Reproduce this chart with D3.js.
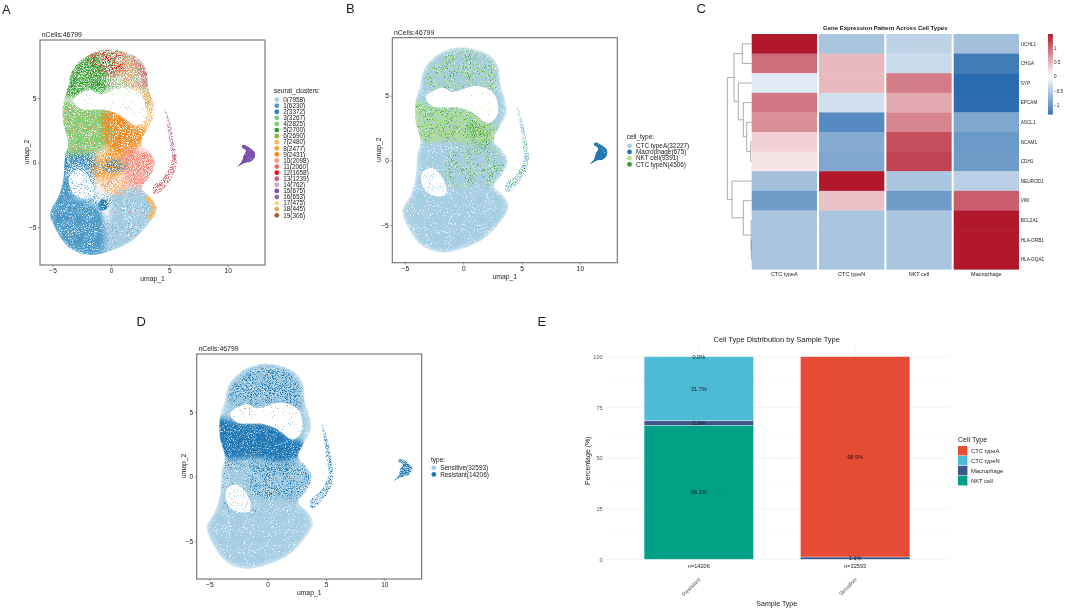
<!DOCTYPE html>
<html lang="en">
<head>
<meta charset="utf-8">
<script src="https://cdn.jsdelivr.net/npm/d3@7/dist/d3.min.js"></script>
<style>
  body { margin: 0; background: #fff; }
  svg { filter: blur(0.25px); }
  text { font-family: "Liberation Sans", Arial, sans-serif; fill: #1a1a1a; }
</style>
</head>
<body>
<script>
// ---- data ----

var clusterLabels = ["0","1","2","3","4","5","6","7","8","9","10","11","12","13","14","15","16","17","18","19"];
var clusterCounts = [7958,6230,3372,3267,2825,2700,2690,2480,2477,2431,2098,2060,1658,1239,762,675,653,475,445,306];
var clusterColors = ["#a6cee3","#4c9ac8","#2a7fb3","#7ec48a","#85cc6e","#2fa02c","#8fb04a","#fdb863","#ff9d2e","#ff8514",
                     "#fb9585","#f76a6a","#e31a1c","#c9637a","#c2a5cf","#7b4fa8","#9067a8","#f0dc8c","#dcae55","#b15928"];

var cellTypes = ["CTC typeA","Macrophage","NKT cell","CTC typeN"];
var cellTypeCounts = [32227,675,9391,4506];
var cellTypeColors = ["#a6cee3","#1f78b4","#b2df8a","#33a02c"];

var sampleTypes = ["Sensitive","Resistant"];
var sampleTypeCounts = [32593,14206];
var sampleTypeColors = ["#a6cee3","#1f78b4"];

// The ~46k cells cannot be read one by one, so the umap panels are traced as
// regions in umap coordinates; the svg filter below only gives them a grainy look.
var bodyOutline = [[-0.66,8.73],[1.06,8.6],[2.49,7.96],[3.06,7.05],[3.2,5.76],[3.63,4.6],[3.69,3.57],[3.06,2.53],[2.63,1.5],[3.34,0.78],[3.77,-0.05],[3.34,-1.09],[2.63,-2.0],[3.34,-2.64],[3.91,-3.54],[3.63,-4.19],[2.91,-5.09],[1.91,-6.0],[0.2,-6.77],[-1.8,-7.16],[-3.51,-6.64],[-4.8,-5.09],[-5.23,-3.93],[-4.51,-2.64],[-4.09,-1.34],[-3.94,0.47],[-3.66,1.5],[-4.09,3.05],[-4.09,4.6],[-3.66,5.89],[-3.37,7.05],[-2.37,8.09]];
var upperHole = [[-3.2,4.9],[-1.8,5.62],[-0.94,5.3],[1.06,5.75],[2.6,5.2],[2.95,3.6],[2.15,2.88],[0.77,3.7],[-0.37,4.08],[-2.66,4.21]];
var lowerHole = [[-3.5,-0.95],[-2.66,-0.6],[-1.75,-1.4],[-1.45,-2.55],[-1.94,-2.8],[-3.0,-2.55],[-3.55,-1.86]];
var crescent = [[4.6,4.15],[5.0,3.4],[5.4,1.6],[5.65,0.1],[5.2,-1.2],[4.2,-2.3],[3.7,-2.45],[3.6,-1.9],[4.6,-1.0],[5.2,0.1],[5.0,1.6],[4.8,3.0]];
var macroBlob = [[11.3,1.4],[12.0,1.1],[12.35,0.75],[12.3,0.35],[11.95,0.05],[11.5,-0.02],[11.1,-0.2],[10.8,-0.33],[11.2,0.1],[11.35,0.55],[11.55,0.9],[11.2,1.2]];

var lowerRight = [[-0.8,-7.2],[-0.5,-5],[0,-3.5],[0.5,-2.2],[2.6,-1.9],[3.4,-2.6],[3.95,-3.5],[3.7,-4.2],[2.9,-5.2],[1.9,-6.1],[0.2,-6.9]];
var lowerLeft = [[-5.3,-3.9],[-4.6,-2.4],[-4.2,-1.2],[-3.4,-1.2],[-3.2,-2.6],[-2,-3],[-1,-3.5],[-0.5,-5],[-0.8,-7.2],[-1.8,-7.3],[-3.6,-6.7],[-4.9,-5.1]];
var midLeftBlue = [[-4.2,-1.5],[-4,0.9],[-2.5,0.9],[-1.3,0.4],[-1.4,-0.9],[-2.6,-0.2],[-3.6,-0.6]];
var darkSpot = [[-0.7,-2.8],[-0.3,-3.1],[-0.4,-3.6],[-0.9,-3.7],[-1.1,-3.2]];
var leftGreen = [[-4.2,4.7],[-4.2,3],[-3.8,1.5],[-3.7,0.7],[-1,0.9],[-0.2,1.4],[-0.3,4.1],[-2.7,4.3],[-3.3,4.7]];
var orangeWedge = [[-0.5,4.15],[0.8,3.75],[2.1,2.95],[3.1,2.55],[2.6,1.5],[1.9,0.8],[0.2,0.6],[-0.5,1.5]];
var centerOrange = [[-1.5,-1.1],[-1.1,0.7],[0.2,1.0],[1.6,0.9],[1.5,-0.5],[0.8,-1],[-0.5,-1.4]];
var centerBlue = [[-0.9,-0.3],[0,0.25],[1.4,0.05],[1.3,-0.5],[0,-0.7]];
var rightSalmon = [[1.2,0.9],[2.5,0.95],[3.35,0.8],[3.8,-0.05],[3.35,-1.1],[2.6,-2],[1.5,-1.7],[1.1,-0.6]];
var lowerTan = [[-1.2,-1.3],[-0.4,-2.3],[0.7,-2.5],[1.5,-1.8],[1,-1],[0,-1.1]];
var tanBulge = [[3,-2.7],[3.5,-2.6],[3.95,-3.5],[3.65,-4.35],[3.1,-4.5],[3.4,-3.5]];
var topGreen = [[-4.1,5.3],[-3.4,7.1],[-2.4,8.1],[-1.2,8.5],[-0.7,7.4],[-0.3,6.3],[-0.4,5.5],[-1.2,5.3],[-1.8,5.7],[-3,5.1]];
var topRed = [[-2,8.2],[-0.7,8.8],[0.9,8.65],[1.2,7.6],[0.6,6.8],[-0.6,6.9],[-1.4,7.5]];
var topRight = [[0.8,8.7],[2.1,8.2],[2.7,6.8],[2.9,5.6],[1.3,5.9],[0.3,6.6]];
var topCrimson = [[1.7,8.2],[2.6,7.9],[3.15,7],[3.25,5.9],[2.7,6],[2.5,7]];
var rightLoop = [[2.7,5.4],[3.3,5.8],[3.75,4.6],[3.75,3.5],[3.1,2.5],[2.6,2.8],[2.9,3.8]];
var crescentUpper = [[4.5,4.25],[5.2,3.2],[5.7,0.5],[4.9,0.5],[4.7,3]];
var crescentLower = [[5,0.6],[5.7,0.5],[5.2,-1.3],[4.2,-2.4],[3.5,-2.5],[3.5,-1.8],[4.6,-1]];
var topRing = [[-4.1,5],[-3.5,7.2],[-2.4,8.2],[-0.6,8.8],[1.1,8.7],[2.5,8],[3.1,7],[3.25,5.7],[3.7,4.5],[2.8,4.2],[2.5,5.6],[-1,5.5],[-3,5]];
var ringInner = [[-3.3,5.8],[-3,7.2],[-2,8],[-0.6,8.5],[1,8.4],[2.3,7.8],[2.8,6.8],[2.9,5.4],[1,5.7],[-1,5.4]];
var upperBand = [[-4.2,4.55],[-2.7,4.25],[-0.4,4.12],[0.8,3.75],[2.1,2.95],[3.15,2.55],[2.7,1.6],[1,1.2],[-1,1.5],[-3.8,1.6]];
var midBand = [[-3.9,2.1],[-0.8,2.4],[2.7,2.0],[2.2,0.7],[0.2,0.4],[-2,0.8],[-3.6,0.6]];
var denseGreen = [[0.5,2.9],[1.6,2.5],[2.3,1.3],[1.6,0.8],[0.8,1.6]];
var lowerMix = [[-1.5,-1.2],[-1.1,0.7],[0.5,0.9],[2.2,0.95],[3.35,0.85],[3.8,-0.05],[3.35,-1.1],[2.6,-1.9],[1.2,-1.9],[-0.3,-2.1]];
var lowerMixD = [[-1.5,-1.2],[-1.1,0.7],[0.5,0.9],[2.2,0.95],[3.35,0.85],[3.8,-0.05],[3.35,-1.1],[2.6,-1.9],[1,-1.7],[-0.3,-1.8]];
var lowerFaint = [[-4.3,-2],[-3.9,0.7],[-1.2,0.7],[-1.2,-2.4],[-0.2,-2.5],[0.6,-2.6],[-0.4,-3.5],[-2.3,-3],[-3.4,-2.8]];

var smallRegions = [macroBlob,crescent,crescentUpper,crescentLower,darkSpot,tanBulge];

// cluster/type index, share of the area that is covered, region
var layersA = [
  [0,1.1,lowerRight],[1,1.1,lowerLeft],[2,.12,lowerLeft],[0,.3,lowerLeft],[1,.2,lowerRight],[10,.06,lowerRight],
  [1,.6,lowerFaint],[2,.7,midLeftBlue],[3,.14,midLeftBlue],[2,.85,darkSpot],
  [4,.95,leftGreen],[3,.45,leftGreen],[9,.14,leftGreen],[10,.14,leftGreen],
  [9,.9,orangeWedge],[3,.34,orangeWedge],[10,.1,orangeWedge],
  [8,.75,centerOrange],[3,.12,centerOrange],[2,.7,centerBlue],
  [10,.85,rightSalmon],[11,.3,rightSalmon],[0,.15,rightSalmon],
  [7,.65,lowerTan],[10,.45,lowerTan],[7,.95,tanBulge],
  [3,.65,topRing],[10,.25,topRing],[5,.72,topGreen],[4,.22,topGreen],[10,.5,topRight],[7,.35,topRight],[12,.5,topRed],[5,.15,topRed],[13,.65,topCrimson],[12,.2,topCrimson],
  [7,.7,rightLoop],[14,.65,crescentUpper],[13,.3,crescentUpper],[13,.6,crescentLower],[10,.25,crescentLower],
  [15,1.3,macroBlob]
];
var layersB = [
  [0,1.15,bodyOutline],[2,.82,upperBand],[3,.28,upperBand],[0,.16,upperBand],[3,.45,denseGreen],
  [2,.45,ringInner],[3,.25,ringInner],[2,.35,lowerMix],[3,.26,lowerMix],
  [0,.7,crescent],[3,.25,crescent],[1,1.3,macroBlob]
];
var layersD = [
  [0,1.15,bodyOutline],[1,.98,upperBand],[1,.42,midBand],[1,.5,ringInner],[1,.45,lowerMixD],[1,.14,lowerFaint],
  [0,.7,crescent],[1,.4,crescent],[0,1.3,macroBlob],[1,.68,macroBlob]
];

// heatmap
var genes = ["UCHL1","CHGA","SYP","EPCAM","ASCL1","NCAM1","CDH1","NEUROD1","VIM","BCL2A1","HLA-DRB1","HLA-DQA1"];
var heatColumns = ["CTC typeA","CTC typeN","NKT cell","Macrophage"];
var heatValues = [
  [1.5,-0.5,-0.38,-0.55],
  [0.95,0.45,-0.32,-1.12],
  [-0.18,0.45,0.85,-1.27],
  [0.88,-0.28,0.55,-1.25],
  [0.72,-1.0,0.8,-0.75],
  [0.3,-0.72,1.15,-0.88],
  [0.18,-0.75,1.22,-0.85],
  [-0.55,1.5,-0.5,-0.4],
  [-0.85,0.4,-0.85,1.05],
  [-0.5,-0.5,-0.5,1.5],
  [-0.5,-0.5,-0.5,1.5],
  [-0.5,-0.5,-0.5,1.5]
];
var colorbarTicks = [1,0.5,0,-0.5,-1];
// [merge height, left, right]
var dendrogram = [24.4,
  [17.7,[9.4,"UCHL1","CHGA"],[13.4,"SYP",[8.4,"EPCAM",[5,"ASCL1",[1,"NCAM1","CDH1"]]]]],
  [19.7,"NEUROD1",[8.4,"VIM",[0.6,"BCL2A1",[0.3,"HLA-DRB1","HLA-DQA1"]]]]
];

// stacked bars
var barSamples = ["Resistant","Sensitive"];
var barTotals = [14206,32593];
var barTypes = ["CTC typeA","CTC typeN","Macrophage","NKT cell"];
var barColors = ["#e64b35","#4dbbd5","#3c5488","#00a087"];
var barValues = [
  [0.0,31.7,2.2,66.1],
  [98.9,0,1.1,0]
];

// ---- drawing ----

var svg = d3.select("body").append("svg").attr("width",1065).attr("height",610);
var defs = svg.append("defs");
var filterCount = 0;

function grainFilter(density, box, edge) {
  var id = "grain" + (filterCount++);
  var t = 0.5 + (0.5 - density) * 0.42;
  var s = 6;
  var f = defs.append("filter").attr("id",id).attr("filterUnits","userSpaceOnUse")
    .attr("x",box[0]).attr("y",box[1]).attr("width",box[2]).attr("height",box[3])
    .attr("color-interpolation-filters","sRGB");
  f.append("feGaussianBlur").attr("in","SourceGraphic").attr("stdDeviation",edge).attr("result","soft");
  f.append("feTurbulence").attr("type","fractalNoise").attr("baseFrequency",1.05).attr("numOctaves",2)
    .attr("seed",filterCount*3+1).attr("result","noise");
  f.append("feColorMatrix").attr("in","noise").attr("type","matrix")
    .attr("values","0 0 0 0 0  0 0 0 0 0  0 0 0 0 0  0 0 0 "+s+" "+(-s*t)).attr("result","mask");
  f.append("feComposite").attr("in","soft").attr("in2","mask").attr("operator","in").attr("result","grain");
  f.append("feGaussianBlur").attr("in","grain").attr("stdDeviation",0.35);
  return "url(#"+id+")";
}

function umapPanel(left, top, layers, colors, hazeColors, legendTitle, legendItems, lg) {
  var x = d3.scaleLinear().domain([-6.08,13.2]).range([left,left+225]);
  var y = d3.scaleLinear().domain([-7.93,9.5]).range([top+225,top]);
  var path = d3.line().x(function(d){return x(d[0]);}).y(function(d){return y(d[1]);}).curve(d3.curveCatmullRomClosed);
  var box = [left,top,225,225];

  var softId = "soft" + Math.round(left);
  defs.append("filter").attr("id",softId).append("feGaussianBlur").attr("stdDeviation",0.55);
  var maskId = "mask" + Math.round(left);
  defs.append("mask").attr("id",maskId).attr("maskUnits","userSpaceOnUse")
    .attr("x",left).attr("y",top).attr("width",225).attr("height",225)
    .append("path").attr("fill","#fff").attr("fill-rule","evenodd").attr("filter","url(#"+softId+")")
    .attr("d",path(bodyOutline)+path(upperHole)+path(lowerHole)+path(crescent)+path(macroBlob));

  var g = svg.append("g").attr("mask","url(#"+maskId+")");
  layers.forEach(function(l){
    var edge = smallRegions.indexOf(l[2]) >= 0 ? 0.5 : 2.4;
    g.append("path").attr("d",path(l[2])).attr("fill",colors[l[0]]).attr("filter",grainFilter(l[1],box,edge));
  });
  // sparse cells inside the holes
  svg.append("path").attr("d",path(upperHole)).attr("fill",colors[hazeColors[0]]).attr("filter",grainFilter(0.08,box,2));
  svg.append("path").attr("d",path(lowerHole)).attr("fill",colors[hazeColors[1]]).attr("filter",grainFilter(0.34,box,2));

  svg.append("rect").attr("x",left).attr("y",top).attr("width",225).attr("height",225)
    .attr("fill","none").attr("stroke","#6e6e6e").attr("stroke-width",1.1);
  var ax = svg.append("g").attr("transform","translate(0,"+(top+225)+")")
    .call(d3.axisBottom(x).tickValues([-5,0,5,10]).tickSize(2).tickPadding(1.5));
  var ay = svg.append("g").attr("transform","translate("+left+",0)")
    .call(d3.axisLeft(y).tickValues([-5,0,5]).tickSize(2).tickPadding(1.5));
  [ax,ay].forEach(function(a){
    a.select(".domain").remove();
    a.selectAll("line").attr("stroke","#444").attr("stroke-width",0.5);
    a.selectAll("text").attr("font-size",6.6).attr("font-family",null);
  });
  svg.append("text").attr("x",left+1.7).attr("y",top-3.2).attr("font-size",6.9).text("nCells:46799");
  svg.append("text").attr("x",left+112.5).attr("y",top+241).attr("text-anchor","middle").attr("font-size",6.8).text("umap_1");
  svg.append("text").attr("transform","translate("+(left-11)+","+(top+112)+") rotate(-90)")
    .attr("text-anchor","middle").attr("font-size",6.8).text("umap_2");

  svg.append("text").attr("x",lg.x).attr("y",lg.y).attr("font-size",6.5).text(legendTitle);
  var rows = svg.append("g").selectAll("g").data(legendItems).join("g")
    .attr("transform",function(d,i){return "translate("+lg.x+","+(lg.y+lg.first+i*lg.step)+")";});
  rows.append("circle").attr("cx",2.8).attr("r",2.4).attr("fill",function(d){return d.color;});
  rows.append("text").attr("x",9.2).attr("y",2.2).attr("font-size",6.4).text(function(d){return d.label;});
}

function legendItems(labels, counts, colors) {
  return labels.map(function(l,i){ return {label:l+"("+counts[i]+")", color:colors[i]}; });
}

umapPanel(40,40,layersA,clusterColors,[3,1],"seurat_clusters:",legendItems(clusterLabels,clusterCounts,clusterColors),{x:274,y:93,first:6.6,step:6.09});
umapPanel(392.3,37.7,layersB,cellTypeColors,[2,0],"cell_type:",legendItems(cellTypes,cellTypeCounts,cellTypeColors),{x:626.7,y:139,first:6.8,step:6.2});
umapPanel(196.7,354,layersD,sampleTypeColors,[1,0],"type:",legendItems(sampleTypes,sampleTypeCounts,sampleTypeColors),{x:431,y:462,first:5.8,step:6.6});

// panel letters
[["A",2,13.5],["B",346,13],["C",696.5,13],["D",136.5,326],["E",537.5,326]].forEach(function(p){
  svg.append("text").attr("x",p[1]).attr("y",p[2]).attr("font-size",13).text(p[0]);
});

// ---- heatmap ----
var hx = d3.scaleBand().domain(heatColumns).range([751.7,1019]).paddingInner(0.03);
var hy = d3.scaleBand().domain(genes).range([34,269.3]);
var hc = d3.scaleLinear().domain([-1.31,0,1.5]).range(["#2166ac","#ffffff","#b2182b"]).clamp(true);

genes.forEach(function(g,r){
  svg.append("g").selectAll("rect").data(heatValues[r]).join("rect")
    .attr("x",function(d,i){return hx(heatColumns[i]);}).attr("y",hy(g))
    .attr("width",hx.bandwidth()).attr("height",hy.bandwidth()+0.3)
    .attr("fill",function(d){return hc(d);});
});
svg.append("g").selectAll("text").data(genes).join("text")
  .attr("x",1020.7).attr("y",function(d){return hy(d)+hy.bandwidth()/2+1.7;})
  .attr("font-size",4.7).text(function(d){return d;});
svg.append("g").selectAll("text").data(heatColumns).join("text")
  .attr("x",function(d){return hx(d)+hx.bandwidth()/2;}).attr("y",275.5).attr("text-anchor","middle")
  .attr("font-size",5.5).text(function(d){return d;});
svg.append("text").attr("x",885.3).attr("y",30).attr("text-anchor","middle").attr("font-size",6)
  .attr("font-weight","bold").text("Gene Expression Pattern Across Cell Types");

// dendrogram
var dx = d3.scaleLinear().domain([0,24.4]).range([751.7,727.3]);
var dg = svg.append("g").attr("fill","none").attr("stroke","#8a8a8a").attr("stroke-width",0.7);
function drawNode(n) {
  if (typeof n === "string") return {px:dx(0), py:hy(n)+hy.bandwidth()/2};
  var a = drawNode(n[1]), b = drawNode(n[2]), px = dx(n[0]);
  dg.append("path").attr("d","M"+a.px+","+a.py+"H"+px+"V"+b.py+"H"+b.px);
  return {px:px, py:(a.py+b.py)/2};
}
drawNode(dendrogram);

// colorbar
var cbY = d3.scaleLinear().domain([1.5,-1.31]).range([34,114.3]);
svg.append("g").selectAll("rect").data(d3.range(80)).join("rect")
  .attr("x",1048).attr("width",4.8)
  .attr("y",function(i){return 34+i*80.3/80;}).attr("height",1.3)
  .attr("fill",function(i){return hc(cbY.invert(34+(i+0.5)*80.3/80));});
svg.append("g").selectAll("text").data(colorbarTicks).join("text")
  .attr("x",1054).attr("y",function(d){return cbY(d)+1.6;}).attr("font-size",4.6)
  .text(function(d){return d3.format("")(d);});

// ---- stacked bars ----
var bx = d3.scaleBand().domain(barSamples).range([605,949]).paddingInner(0.3).paddingOuter(0.25);
var by = d3.scaleLinear().domain([0,100]).range([559.3,356.7]);
var grid = svg.append("g");
d3.range(0,101,12.5).forEach(function(v,i){
  grid.append("line").attr("x1",605).attr("x2",949).attr("y1",by(v)).attr("y2",by(v))
    .attr("stroke",i%2?"#f6f6f6":"#ebebeb").attr("stroke-width",i%2?0.4:0.6);
});
barSamples.forEach(function(s){
  var c = bx(s)+bx.bandwidth()/2;
  grid.append("line").attr("x1",c).attr("x2",c).attr("y1",346).attr("y2",570).attr("stroke","#ebebeb").attr("stroke-width",0.6);
});
barSamples.forEach(function(s,si){
  var acc = 100, vals = barValues[si];
  vals.forEach(function(v,ti){
    var lo = acc - v;
    if (v > 0) {
      svg.append("rect").attr("x",bx(s)).attr("width",bx.bandwidth()).attr("y",by(acc)).attr("height",by(lo)-by(acc))
        .attr("fill",barColors[ti]).attr("stroke","#fff").attr("stroke-width",0.35);
    }
    acc = lo;
  });
  acc = 100;
  vals.forEach(function(v){
    var lo = acc - v;
    if (v > 0 || si === 0) {
      svg.append("text").attr("x",bx(s)+bx.bandwidth()/2).attr("y",by((acc+lo)/2)+2).attr("text-anchor","middle")
        .attr("font-size",5.6).text(v.toFixed(1)+"%");
    }
    acc = lo;
  });
  svg.append("text").attr("x",bx(s)+bx.bandwidth()/2).attr("y",567.8).attr("text-anchor","middle")
    .attr("font-size",5.6).text("n="+barTotals[si]);
  svg.append("text").attr("transform","translate("+(bx(s)+bx.bandwidth()/2+2)+",580) rotate(-45)")
    .attr("text-anchor","end").attr("font-size",5.6).attr("style","fill:#555").text(s);
});
var byAxis = svg.append("g").attr("transform","translate(605,0)").call(d3.axisLeft(by).tickValues([0,25,50,75,100]).tickSize(0).tickPadding(2.4));
byAxis.select(".domain").remove();
byAxis.selectAll("text").attr("font-size",5.6).attr("font-family",null).attr("style","fill:#555");

svg.append("text").attr("x",776.7).attr("y",341.8).attr("text-anchor","middle").attr("font-size",7.5).text("Cell Type Distribution by Sample Type");
svg.append("text").attr("x",776.7).attr("y",606).attr("text-anchor","middle").attr("font-size",7).text("Sample Type");
svg.append("text").attr("transform","translate(590,460.7) rotate(-90)").attr("text-anchor","middle").attr("font-size",7).text("Percentage (%)");

svg.append("text").attr("x",958).attr("y",441.8).attr("font-size",7).text("Cell Type");
var bl = svg.append("g").selectAll("g").data(barTypes).join("g")
  .attr("transform",function(d,i){return "translate(958,"+(446+i*10)+")";});
bl.append("rect").attr("width",9.4).attr("height",9.4).attr("fill",function(d,i){return barColors[i];});
bl.append("text").attr("x",13).attr("y",6.8).attr("font-size",5.8).text(function(d){return d;});
</script>
</body>
</html>
